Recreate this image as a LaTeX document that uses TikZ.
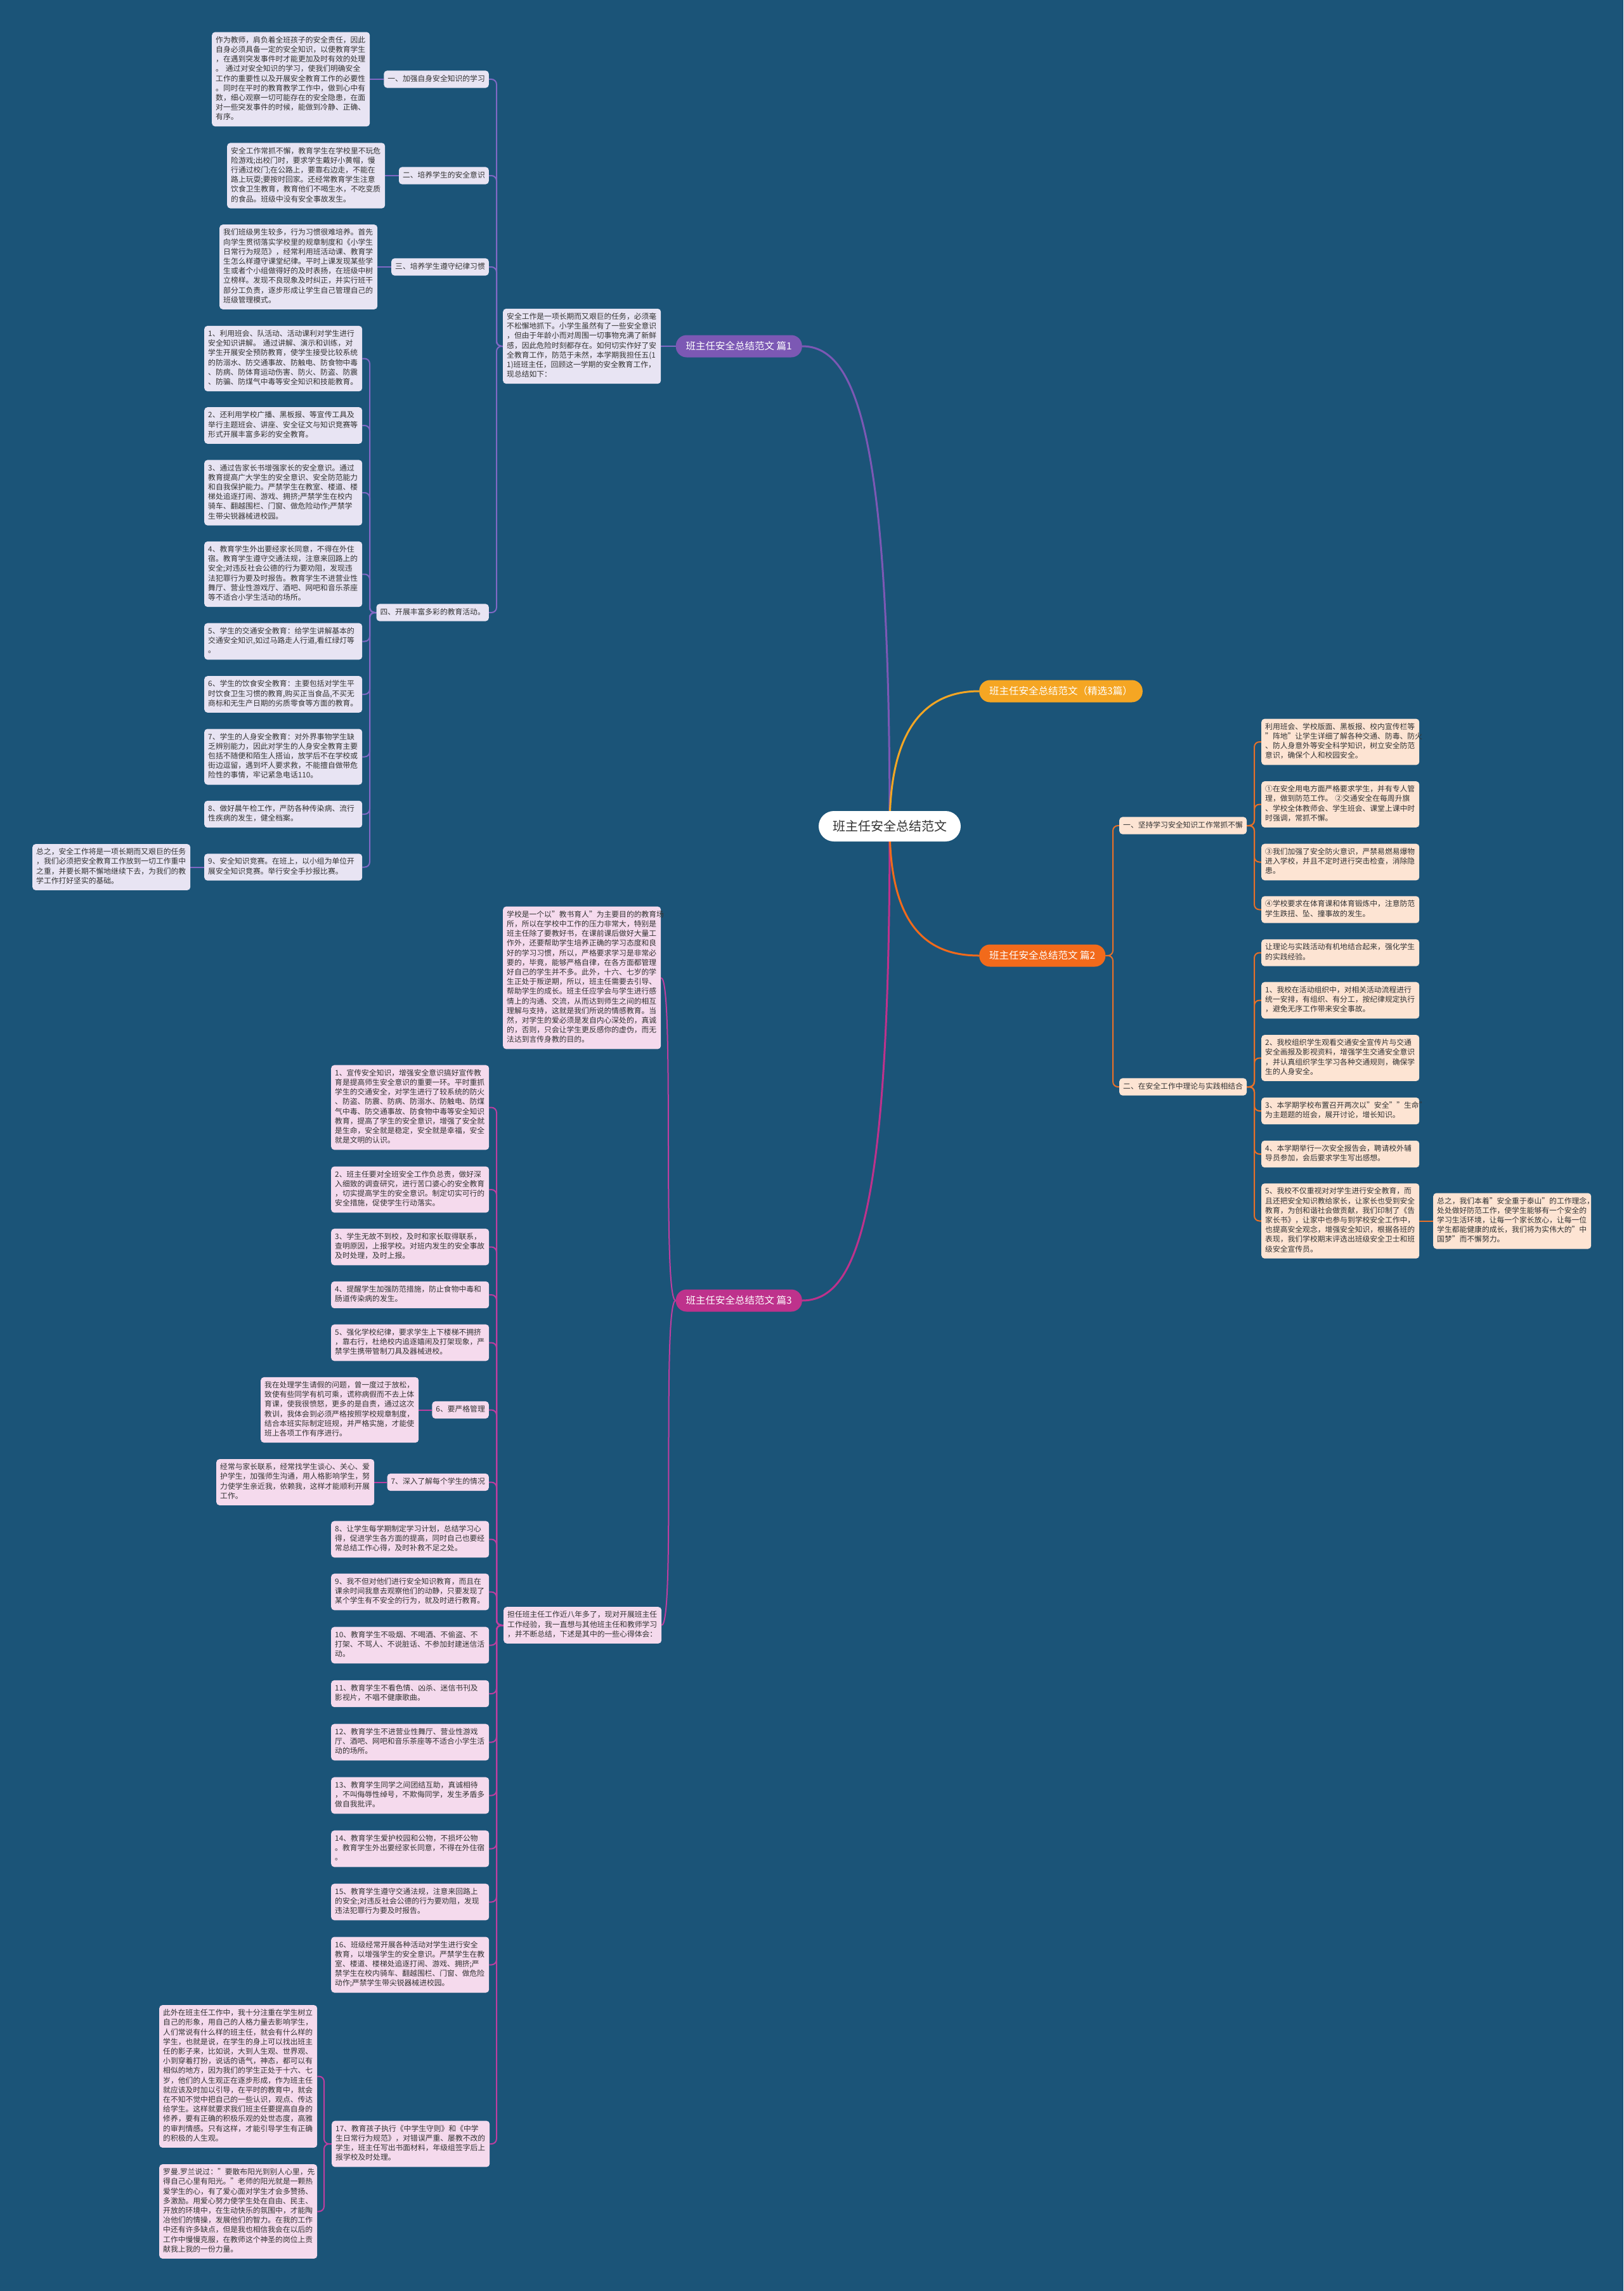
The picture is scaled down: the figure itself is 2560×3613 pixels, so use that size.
\documentclass[tikz,border=0pt]{standalone}
\usepackage{fontspec}
\setmainfont{Noto Sans CJK SC}
\pgfdeclarelayer{back}
\pgfdeclarelayer{edges}
\pgfsetlayers{back,edges,main}
\definecolor{bg}{RGB}{27,84,120}
\definecolor{txt}{RGB}{51,51,51}
\definecolor{pfill}{RGB}{232,228,243}
\definecolor{pline}{RGB}{128,104,196}
\definecolor{pmain}{RGB}{124,88,180}
\definecolor{ofill}{RGB}{253,228,211}
\definecolor{oline}{RGB}{232,112,40}
\definecolor{omain}{RGB}{242,106,27}
\definecolor{ymain}{RGB}{245,166,35}
\definecolor{mfill}{RGB}{245,218,237}
\definecolor{mline}{RGB}{190,62,160}
\definecolor{mmain}{RGB}{190,50,140}
\tikzset{
  box/.style={font=\fontsize{11.8pt}{15.2pt}\selectfont, text=txt, rounded corners=5pt, inner sep=6pt,
    execute at begin node=\strut, execute at end node=\strut},
  pbox/.style={box, fill=pfill, text width=237pt, align=left, anchor=west},
  plab/.style={box, fill=pfill, anchor=east},
  obox/.style={box, fill=ofill, text width=237pt, align=left, anchor=west},
  olab/.style={box, fill=ofill, anchor=west},
  mbox/.style={box, fill=mfill, text width=237pt, align=left, anchor=west},
  mlab/.style={box, fill=mfill, anchor=east},
  bnode/.style={font=\fontsize{15.5pt}{18pt}\selectfont, text=white, rounded corners=17pt, minimum height=35pt, inner xsep=16pt, inner ysep=4pt},
  cnode/.style={font=\fontsize{20pt}{24pt}\selectfont, text=txt, fill=white, rounded corners=24pt, minimum height=48pt, inner xsep=22pt},
  pl/.style={draw=pline, line width=2pt, rounded corners=8pt},
  ol/.style={draw=oline, line width=2pt, rounded corners=8pt},
  ml/.style={draw=mline, line width=2pt, rounded corners=8pt},
  mainl/.style={line width=3pt}
}
\begin{document}
\begin{tikzpicture}[x=1pt,y=-1pt]
\begin{pgfonlayer}{back}
\fill[bg] (0,0) rectangle (2560,3613);
\end{pgfonlayer}
\useasboundingbox (0,0) rectangle (2560,3613);

% trunk coordinates
\coordinate (tA) at (783,0);
\coordinate (tB) at (583,0);
\coordinate (tC) at (1755,0);
\coordinate (tD) at (1978,0);
\coordinate (tE) at (783,0);
\coordinate (tF) at (511,0);

% center and branches
\node[cnode] (c) at (1403,1303) {班主任安全总结范文};
\node[bnode, fill=ymain, anchor=west] (b0) at (1544,1090) {班主任安全总结范文（精选3篇）};
\node[bnode, fill=omain, anchor=west] (b2) at (1544,1507) {班主任安全总结范文 篇2};
\node[bnode, fill=pmain, anchor=east] (b1) at (1265,546) {班主任安全总结范文 篇1};
\node[bnode, fill=mmain, anchor=east] (b3) at (1265,2051) {班主任安全总结范文 篇3};

% ---------------- branch 1 ----------------
\node[pbox] (i1) at (793,546) {安全工作是一项长期而又艰巨的任务，必须毫\\
不松懈地抓下。小学生虽然有了一些安全意识\\
，但由于年龄小而对周围一切事物充满了新鲜\\
感，因此危险时刻都存在。如何切实作好了安\\
全教育工作，防范于未然，本学期我担任五(1\\
1)班班主任，回顾这一学期的安全教育工作，\\
现总结如下：};
\node[plab] (l1) at (771,125) {一、加强自身安全知识的学习};
\node[plab] (l2) at (771,277) {二、培养学生的安全意识};
\node[plab] (l3) at (771,421) {三、培养学生遵守纪律习惯};
\node[plab] (l4) at (771,966) {四、开展丰富多彩的教育活动。};
\node[pbox] (t1) at (334,125) {作为教师，肩负着全班孩子的安全责任，因此\\
自身必须具备一定的安全知识，以便教育学生\\
，在遇到突发事件时才能更加及时有效的处理\\
。 通过对安全知识的学习，使我们明确安全\\
工作的重要性以及开展安全教育工作的必要性\\
。同时在平时的教育教学工作中，做到心中有\\
数，细心观察一切可能存在的安全隐患，在面\\
对一些突发事件的时候，能做到冷静、正确、\\
有序。};
\node[pbox] (t2) at (358,277) {安全工作常抓不懈，教育学生在学校里不玩危\\
险游戏;出校门时，要求学生戴好小黄帽，慢\\
行通过校门;在公路上，要靠右边走，不能在\\
路上玩耍;要按时回家。还经常教育学生注意\\
饮食卫生教育，教育他们不喝生水，不吃变质\\
的食品。班级中没有安全事故发生。};
\node[pbox] (t3) at (346,421) {我们班级男生较多，行为习惯很难培养。首先\\
向学生贯彻落实学校里的规章制度和《小学生\\
日常行为规范》，经常利用班活动课、教育学\\
生怎么样遵守课堂纪律。平时上课发现某些学\\
生或者个小组做得好的及时表扬，在班级中树\\
立榜样。发现不良现象及时纠正，并实行班干\\
部分工负责，逐步形成让学生自己管理自己的\\
班级管理模式。};
\node[pbox] (p1) at (322,565.5) {1、利用班会、队活动、活动课利对学生进行\\
安全知识讲解。 通过讲解、演示和训练，对\\
学生开展安全预防教育，使学生接受比较系统\\
的防溺水、防交通事故、防触电、防食物中毒\\
、防病、防体育运动伤害、防火、防盗、防震\\
、防骗、防煤气中毒等安全知识和技能教育。};
\node[pbox] (p2) at (322,671) {2、还利用学校广播、黑板报、等宣传工具及\\
举行主题班会、讲座、安全征文与知识竞赛等\\
形式开展丰富多彩的安全教育。};
\node[pbox] (p3) at (322,777) {3、通过告家长书增强家长的安全意识。通过\\
教育提高广大学生的安全意识、安全防范能力\\
和自我保护能力。严禁学生在教室、楼道、楼\\
梯处追逐打闹、游戏、拥挤;严禁学生在校内\\
骑车、翻越围栏、门窗、做危险动作;严禁学\\
生带尖锐器械进校园。};
\node[pbox] (p4) at (322,905.5) {4、教育学生外出要经家长同意，不得在外住\\
宿。教育学生遵守交通法规，注意来回路上的\\
安全;对违反社会公德的行为要劝阻，发现违\\
法犯罪行为要及时报告。教育学生不进营业性\\
舞厅、营业性游戏厅、酒吧、网吧和音乐茶座\\
等不适合小学生活动的场所。};
\node[pbox] (p5) at (322,1011.5) {5、学生的交通安全教育：给学生讲解基本的\\
交通安全知识,如过马路走人行道,看红绿灯等\\
。};
\node[pbox] (p6) at (322,1095) {6、学生的饮食安全教育：主要包括对学生平\\
时饮食卫生习惯的教育,购买正当食品,不买无\\
商标和无生产日期的劣质零食等方面的教育。};
\node[pbox] (p7) at (322,1193.5) {7、学生的人身安全教育：对外界事物学生缺\\
乏辨别能力，因此对学生的人身安全教育主要\\
包括不随便和陌生人搭讪，放学后不在学校或\\
街边逗留，遇到坏人要求救，不能擅自做带危\\
险性的事情，牢记紧急电话110。};
\node[pbox] (p8) at (322,1284) {8、做好晨午检工作，严防各种传染病、流行\\
性疾病的发生，健全档案。};
\node[pbox] (p9) at (322,1367.5) {9、安全知识竞赛。在班上，以小组为单位开\\
展安全知识竞赛。举行安全手抄报比赛。};
\node[pbox] (pz) at (51,1367.5) {总之，安全工作将是一项长期而又艰巨的任务\\
，我们必须把安全教育工作放到一切工作重中\\
之重，并要长期不懈地继续下去，为我们的教\\
学工作打好坚实的基础。};

% ---------------- branch 2 ----------------
\node[olab] (r1) at (1765,1302) {一、坚持学习安全知识工作常抓不懈};
\node[olab] (r2) at (1765,1714) {二、在安全工作中理论与实践相结合};
\node[obox] (q1) at (1989,1170) {利用班会、学校版面、黑板报、校内宣传栏等\\
"阵地"让学生详细了解各种交通、防毒、防火\\
、防人身意外等安全科学知识，树立安全防范\\
意识，确保个人和校园安全。};
\node[obox] (q2) at (1989,1268.5) {①在安全用电方面严格要求学生，并有专人管\\
理，做到防范工作。 ②交通安全在每周升旗\\
、学校全体教师会、学生班会、课堂上课中时\\
时强调，常抓不懈。};
\node[obox] (q3) at (1989,1359.5) {③我们加强了安全防火意识，严禁易燃易爆物\\
进入学校，并且不定时进行突击检查，消除隐\\
患。};
\node[obox] (q4) at (1989,1434.5) {④学校要求在体育课和体育锻炼中，注意防范\\
学生跌扭、坠、撞事故的发生。};
\node[obox] (s0) at (1989,1502.5) {让理论与实践活动有机地结合起来，强化学生\\
的实践经验。};
\node[obox] (s1) at (1989,1577.5) {1、我校在活动组织中，对相关活动流程进行\\
统一安排，有组织、有分工，按纪律规定执行\\
，避免无序工作带来安全事故。};
\node[obox] (s2) at (1989,1668.5) {2、我校组织学生观看交通安全宣传片与交通\\
安全画报及影视资料，增强学生交通安全意识\\
，并认真组织学生学习各种交通规则，确保学\\
生的人身安全。};
\node[obox] (s3) at (1989,1752) {3、本学期学校布置召开两次以"安全""生命"\\
为主题题的班会，展开讨论，增长知识。};
\node[obox] (s4) at (1989,1820) {4、本学期举行一次安全报告会，聘请校外辅\\
导员参加，会后要求学生写出感想。};
\node[obox] (s5) at (1989,1925.5) {5、我校不仅重视对对学生进行安全教育，而\\
且还把安全知识教给家长，让家长也受到安全\\
教育，为创和谐社会做贡献，我们印制了《告\\
家长书》，让家中也参与到学校安全工作中，\\
也提高安全观念，增强安全知识，根据各班的\\
表现，我们学校期末评选出班级安全卫士和班\\
级安全宣传员。};
\node[obox] (sz) at (2260,1925.5) {总之，我们本着"安全重于泰山"的工作理念，\\
处处做好防范工作，使学生能够有一个安全的\\
学习生活环境，让每一个家长放心，让每一位\\
学生都能健康的成长，我们将为实伟大的"中\\
国梦"而不懈努力。};

% ---------------- branch 3 ----------------
\node[mbox] (i3) at (793,1542) {学校是一个以"教书育人"为主要目的的教育场\\
所，所以在学校中工作的压力非常大，特别是\\
班主任除了要教好书，在课前课后做好大量工\\
作外，还要帮助学生培养正确的学习态度和良\\
好的学习习惯，所以，严格要求学习是非常必\\
要的，毕竟，能够严格自律，在各方面都管理\\
好自己的学生并不多。此外，十六、七岁的学\\
生正处于叛逆期，所以，班主任需要去引导、\\
帮助学生的成长。班主任应学会与学生进行感\\
情上的沟通、交流，从而达到师生之间的相互\\
理解与支持，这就是我们所说的情感教育。当\\
然，对学生的爱必须是发自内心深处的，真诚\\
的，否则，只会让学生更反感你的虚伪，而无\\
法达到言传身教的目的。};
\node[mbox] (m3) at (794,2563) {担任班主任工作近八年多了，现对开展班主任\\
工作经验，我一直想与其他班主任和教师学习\\
，并不断总结，下述是其中的一些心得体会：};
\node[mbox] (n1) at (522,1746.5) {1、宣传安全知识，增强安全意识搞好宣传教\\
育是提高师生安全意识的重要一环。平时重抓\\
学生的交通安全，对学生进行了较系统的防火\\
、防盗、防震、防病、防溺水、防触电、防煤\\
气中毒、防交通事故、防食物中毒等安全知识\\
教育，提高了学生的安全意识，增强了安全就\\
是生命，安全就是稳定，安全就是幸福，安全\\
就是文明的认识。};
\node[mbox] (n2) at (522,1876) {2、班主任要对全班安全工作负总责，做好深\\
入细致的调查研究，进行苦口婆心的安全教育\\
，切实提高学生的安全意识。制定切实可行的\\
安全措施，促使学生行动落实。};
\node[mbox] (n3) at (522,1966.5) {3、学生无故不到校，及时和家长取得联系，\\
查明原因，上报学校。对班内发生的安全事故\\
及时处理，及时上报。};
\node[mbox] (n4) at (522,2042) {4、提醒学生加强防范措施，防止食物中毒和\\
肠道传染病的发生。};
\node[mbox] (n5) at (522,2117.5) {5、强化学校纪律，要求学生上下楼梯不拥挤\\
，靠右行，杜绝校内追逐嬉闹及打架现象，严\\
禁学生携带管制刀具及器械进校。};
\node[mlab] (n6) at (771,2223.5) {6、要严格管理};
\node[mbox] (k6) at (411,2223.5) {我在处理学生请假的问题，曾一度过于放松，\\
致使有些同学有机可乘，谎称病假而不去上体\\
育课，使我很愤怒，更多的是自责，通过这次\\
教训，我体会到必须严格按照学校规章制度，\\
结合本班实际制定班规，并严格实施，才能使\\
班上各项工作有序进行。};
\node[mlab] (n7) at (771,2337.5) {7、深入了解每个学生的情况};
\node[mbox] (k7) at (341,2337.5) {经常与家长联系，经常找学生谈心、关心、爱\\
护学生，加强师生沟通，用人格影响学生，努\\
力使学生亲近我，依赖我，这样才能顺利开展\\
工作。};
\node[mbox] (n8) at (522,2427.5) {8、让学生每学期制定学习计划，总结学习心\\
得，促进学生各方面的提高，同时自己也要经\\
常总结工作心得，及时补救不足之处。};
\node[mbox] (n9) at (522,2510.5) {9、我不但对他们进行安全知识教育，而且在\\
课余时间我意去观察他们的动静，只要发现了\\
某个学生有不安全的行为，就及时进行教育。};
\node[mbox] (n10) at (522,2594.5) {10、教育学生不吸烟、不喝酒、不偷盗、不\\
打架、不骂人、不说脏话、不参加封建迷信活\\
动。};
\node[mbox] (n11) at (522,2671) {11、教育学生不看色情、凶杀、迷信书刊及\\
影视片，不唱不健康歌曲。};
\node[mbox] (n12) at (522,2747.5) {12、教育学生不进营业性舞厅、营业性游戏\\
厅、酒吧、网吧和音乐茶座等不适合小学生活\\
动的场所。};
\node[mbox] (n13) at (522,2831.5) {13、教育学生同学之间团结互助，真诚相待\\
，不叫侮辱性绰号，不欺侮同学，发生矛盾多\\
做自我批评。};
\node[mbox] (n14) at (522,2915.5) {14、教育学生爱护校园和公物，不损坏公物\\
。教育学生外出要经家长同意，不得在外住宿\\
。};
\node[mbox] (n15) at (522,2999.5) {15、教育学生遵守交通法规，注意来回路上\\
的安全;对违反社会公德的行为要劝阻，发现\\
违法犯罪行为要及时报告。};
\node[mbox] (n16) at (522,3098.5) {16、班级经常开展各种活动对学生进行安全\\
教育，以增强学生的安全意识。严禁学生在教\\
室、楼道、楼梯处追逐打闹、游戏、拥挤;严\\
禁学生在校内骑车、翻越围栏、门窗、做危险\\
动作;严禁学生带尖锐器械进校园。};
\node[mbox] (n17) at (523,3381) {17、教育孩子执行《中学生守则》和《中学\\
生日常行为规范》，对错误严重、屡教不改的\\
学生，班主任写出书面材料，年级组签字后上\\
报学校及时处理。};
\node[mbox] (ka) at (251,3274.5) {此外在班主任工作中，我十分注重在学生树立\\
自己的形象，用自己的人格力量去影响学生，\\
人们常说有什么样的班主任，就会有什么样的\\
学生，也就是说，在学生的身上可以找出班主\\
任的影子来，比如说，大到人生观、世界观、\\
小到穿着打扮，说话的语气，神态，都可以有\\
相似的地方，因为我们的学生正处于十六、七\\
岁，他们的人生观正在逐步形成，作为班主任\\
就应该及时加以引导，在平时的教育中，就会\\
在不知不觉中把自己的一些认识，观点、传达\\
给学生。这样就要求我们班主任要提高自身的\\
修养，要有正确的积极乐观的处世态度，高雅\\
的审判情感。只有这样，才能引导学生有正确\\
的积极的人生观。};
\node[mbox] (kb) at (251,3487.5) {罗曼.罗兰说过："要散布阳光到别人心里，先\\
得自己心里有阳光。"老师的阳光就是一颗热\\
爱学生的心，有了爱心面对学生才会多赞扬、\\
多激励。用爱心努力使学生处在自由、民主、\\
开放的环境中，在生动快乐的氛围中，才能陶\\
冶他们的情操，发展他们的智力。在我的工作\\
中还有许多缺点，但是我也相信我会在以后的\\
工作中慢慢克服，在教师这个神圣的岗位上贡\\
献我上我的一份力量。};

% ---------------- connectors ----------------
\begin{pgfonlayer}{edges}
\draw[mainl, draw=pmain] (c.center) .. controls +(0,-600) and +(90,0) .. (b1.east);
\draw[mainl, draw=mmain] (c.center) .. controls +(0,600) and +(90,0) .. (b3.east);
\draw[mainl, draw=ymain] (c.center) .. controls +(0,-160) and +(-80,0) .. (b0.west);
\draw[mainl, draw=omain] (c.center) .. controls +(0,160) and +(-80,0) .. (b2.west);

% branch 1
\draw[pl] (b1.west) -- (i1.east);
\foreach \n in {l1,l2,l3,l4} \draw[pl] (i1.west) -- (i1.west -| tA) |- (\n.east);
\draw[pl] (l1.west) -- (t1.east);
\draw[pl] (l2.west) -- (t2.east);
\draw[pl] (l3.west) -- (t3.east);
\foreach \n in {p1,p2,p3,p4,p5,p6,p7,p8,p9} \draw[pl] (l4.west) -- (l4.west -| tB) |- (\n.east);
\draw[pl] (p9.west) -- (pz.east);

% branch 2
\foreach \n in {r1,r2} \draw[ol] (b2.east) -- (b2.east -| tC) |- (\n.west);
\foreach \n in {q1,q2,q3,q4} \draw[ol] (r1.east) -- (r1.east -| tD) |- (\n.west);
\foreach \n in {s0,s1,s2,s3,s4,s5} \draw[ol] (r2.east) -- (r2.east -| tD) |- (\n.west);
\draw[ol] (s5.east) -- (sz.east -| sz.west);

% branch 3
\draw[ml] (b3.west) .. controls +(-22,0) and +(22,0) .. (i3.east);
\draw[ml] (b3.west) .. controls +(-22,0) and +(22,0) .. (m3.east);
\foreach \n in {n1,n2,n3,n4,n5,n6,n7,n8,n9,n10,n11,n12,n13,n14,n15,n16,n17} \draw[ml] (m3.west) -- (m3.west -| tE) |- (\n.east);
\draw[ml] (n6.west) -- (k6.east);
\draw[ml] (n7.west) -- (k7.east);
\foreach \n in {ka,kb} \draw[ml] (n17.west) -- (n17.west -| tF) |- (\n.east);
\end{pgfonlayer}
\end{tikzpicture}
\end{document}
